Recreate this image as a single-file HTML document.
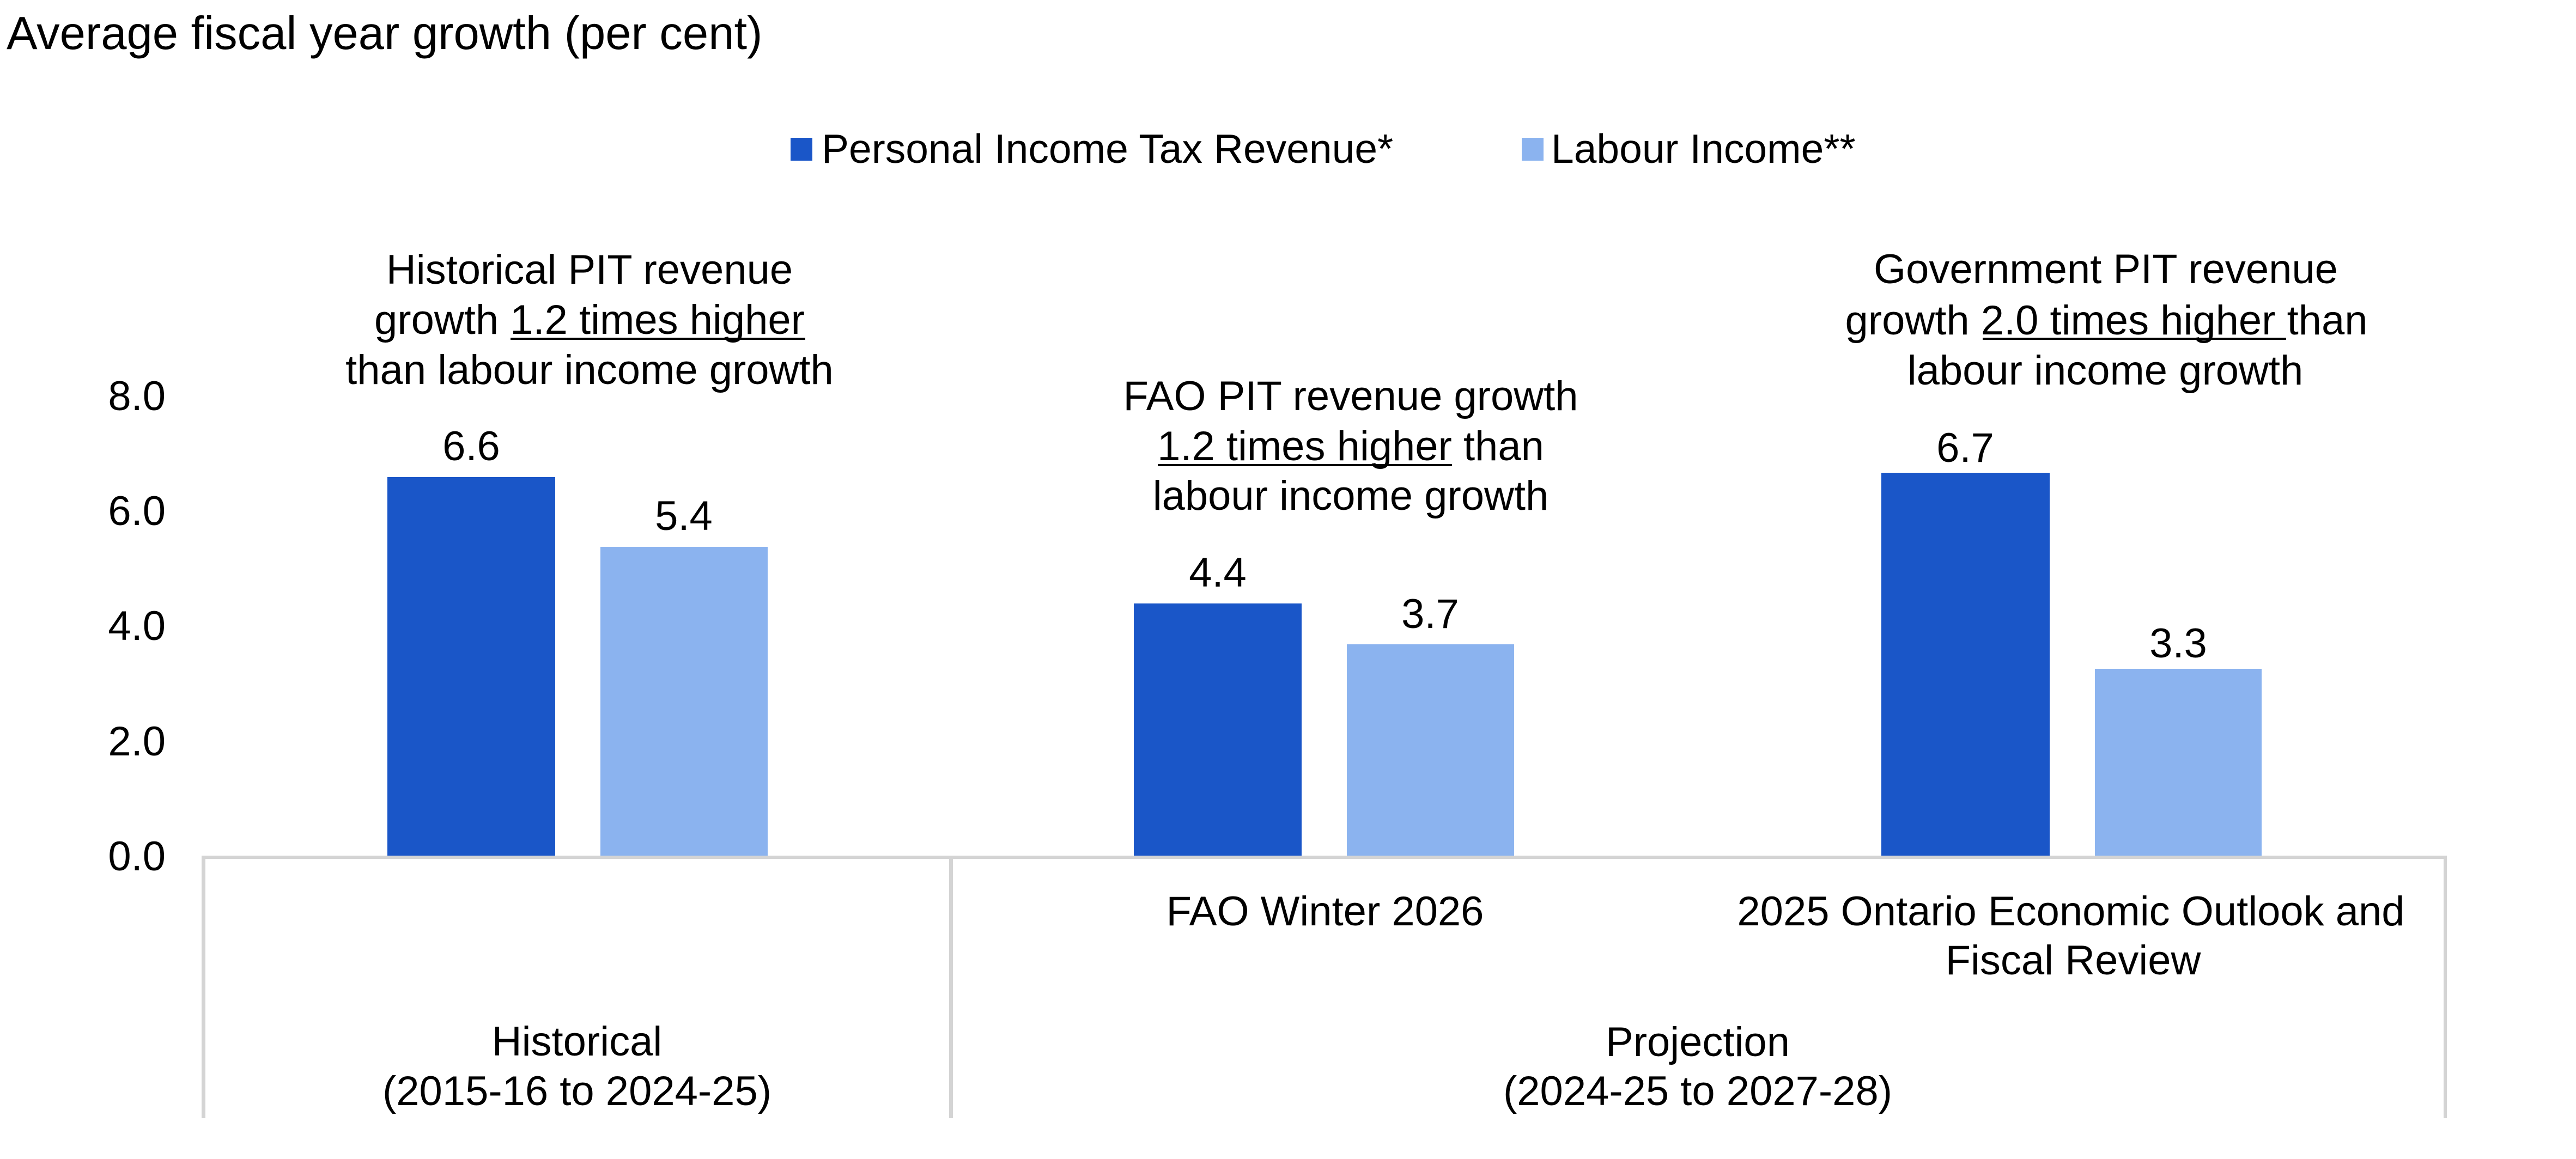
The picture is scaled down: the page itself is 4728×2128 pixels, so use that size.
<!DOCTYPE html>
<html>
<head>
<meta charset="utf-8">
<style>
  html, body { margin:0; padding:0; background:#ffffff; }
  body { width:4728px; height:2128px; overflow:hidden; }
  svg { display:block; }
  text { font-family: "Liberation Sans", Arial, sans-serif; fill:#000; }
</style>
</head>
<body>
<svg width="4728" height="2128" viewBox="0 0 4728 2128" xmlns="http://www.w3.org/2000/svg">
  <rect x="0" y="0" width="4728" height="2128" fill="#ffffff"/>

  <!-- Title -->
  <text x="12" y="90" font-size="85">Average fiscal year growth (per cent)</text>

  <!-- Legend -->
  <rect x="1451" y="253" width="40" height="42" fill="#1A56C8"/>
  <text x="1508" y="299" font-size="75">Personal Income Tax Revenue*</text>
  <rect x="2793" y="253" width="40" height="42" fill="#8BB3EF"/>
  <text x="2847" y="299" font-size="75">Labour Income**</text>

  <!-- Y axis tick labels -->
  <g font-size="76" text-anchor="end">
    <text x="304" y="753">8.0</text>
    <text x="304" y="964">6.0</text>
    <text x="304" y="1175">4.0</text>
    <text x="304" y="1387">2.0</text>
    <text x="304" y="1598">0.0</text>
  </g>

  <!-- Bars -->
  <rect x="711" y="876" width="308" height="696" fill="#1A56C8"/>
  <rect x="1102" y="1004" width="307" height="568" fill="#8BB3EF"/>
  <rect x="2081" y="1108" width="308" height="464" fill="#1A56C8"/>
  <rect x="2472" y="1183" width="307" height="389" fill="#8BB3EF"/>
  <rect x="3453" y="868" width="309" height="704" fill="#1A56C8"/>
  <rect x="3845" y="1228" width="306" height="344" fill="#8BB3EF"/>

  <!-- Data labels -->
  <g font-size="76" text-anchor="middle">
    <text x="865" y="845">6.6</text>
    <text x="1255" y="973">5.4</text>
    <text x="2235" y="1077">4.4</text>
    <text x="2625" y="1153">3.7</text>
    <text x="3607" y="848">6.7</text>
    <text x="3998" y="1207">3.3</text>
  </g>

  <!-- Axis lines -->
  <rect x="370" y="1571" width="4121" height="6" fill="#D4D4D4"/>
  <rect x="370" y="1571" width="7" height="482" fill="#D4D4D4"/>
  <rect x="1742" y="1571" width="7" height="482" fill="#D4D4D4"/>
  <rect x="4485" y="1571" width="6" height="482" fill="#D4D4D4"/>

  <!-- Annotations -->
  <g font-size="76" text-anchor="middle">
    <text x="1082" y="521">Historical PIT revenue</text>
    <text x="1082" y="613">growth 1.2 times higher</text>
    <text x="1082" y="705">than labour income growth</text>

    <text x="2479" y="753">FAO PIT revenue growth</text>
    <text x="2479" y="845">1.2 times higher than</text>
    <text x="2479" y="936">labour income growth</text>

    <text x="3865" y="520">Government PIT revenue</text>
    <text x="3866" y="614">growth 2.0 times higher than</text>
    <text x="3864" y="706">labour income growth</text>
  </g>
  <!-- Underlines -->
  <rect x="937" y="620" width="541" height="4" fill="#000"/>
  <rect x="2125" y="852" width="540" height="4" fill="#000"/>
  <rect x="3639" y="620" width="557" height="4" fill="#000"/>

  <!-- Category labels -->
  <g font-size="76" text-anchor="middle">
    <text x="2432" y="1699">FAO Winter 2026</text>
    <text x="3801" y="1699">2025 Ontario Economic Outlook and</text>
    <text x="3805" y="1789">Fiscal Review</text>

    <text x="1059" y="1938">Historical</text>
    <text x="1059" y="2029">(2015-16 to 2024-25)</text>

    <text x="3116" y="1939">Projection</text>
    <text x="3116" y="2029">(2024-25 to 2027-28)</text>
  </g>
</svg>
</body>
</html>
